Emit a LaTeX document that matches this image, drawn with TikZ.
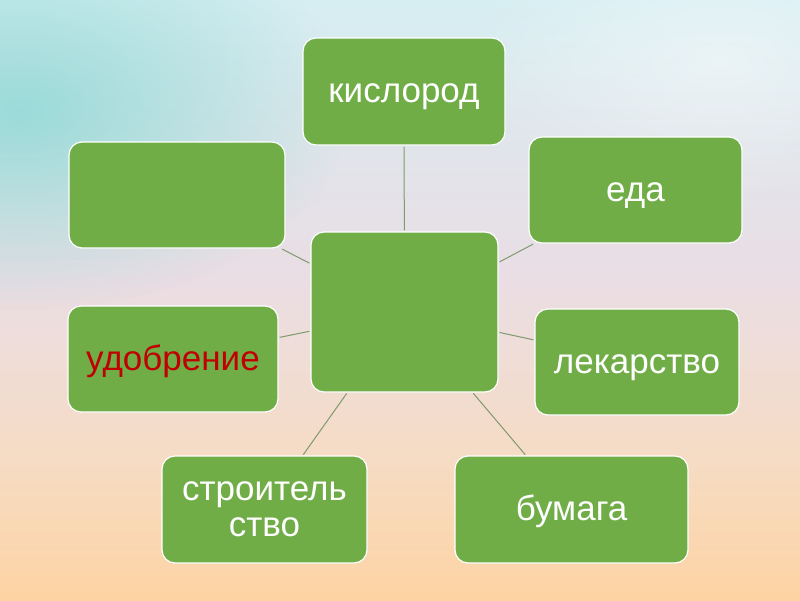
\documentclass[tikz,border=0pt]{standalone}
\usepackage{fontspec}
\setmainfont{Liberation Sans}
\usetikzlibrary{fadings}
\definecolor{boxgreen}{HTML}{70AD47}
\definecolor{linegreen}{HTML}{7E9A6E}
\definecolor{darkred}{HTML}{C00000}
\definecolor{bgtop}{HTML}{D6EEF2}
\definecolor{bgmid}{HTML}{EADDE4}
\definecolor{bglow}{HTML}{F6DCC4}
\definecolor{bgbot}{HTML}{FDD3A3}
\definecolor{tealblob}{HTML}{8ED9D5}
\tikzfading[name=blobfade, inner color=transparent!0, outer color=transparent!100]
\tikzset{
  gbox/.style={draw=white, line width=1.2pt, fill=boxgreen, rounded corners=13pt,
    text=white, font=\fontsize{35}{36}\selectfont, align=center, inner sep=0pt},
  oneline/.style={text height=30pt, text depth=8pt},
  conn/.style={draw=linegreen, line width=1pt}
}
\begin{document}
\begin{tikzpicture}[x=1pt,y=-1pt]
\useasboundingbox (0,0) rectangle (800,600);
% background
\shade[top color=bgtop, bottom color=bgmid] (0,0) rectangle (800,281);
\shade[top color=bgmid, bottom color=bglow] (0,280) rectangle (800,461);
\shade[top color=bglow, bottom color=bgbot] (0,460) rectangle (800,600);
\fill[tealblob, path fading=blobfade, fill opacity=0.85] (20,110) ellipse (330 and 200);
\fill[white, path fading=blobfade, fill opacity=0.45] (720,60) ellipse (260 and 140);
% nodes
\node[gbox, minimum width=187pt, minimum height=160pt] (center) at (404.5,312) {};
\node[gbox, oneline, minimum width=202pt, minimum height=107pt] (kis) at (404,91.5) {кислород};
\node[gbox, oneline, minimum width=213pt, minimum height=106pt] (eda) at (635.5,190) {еда};
\node[gbox, minimum width=216pt, minimum height=106pt] (empty) at (177,195) {};
\node[gbox, oneline, minimum width=210pt, minimum height=106pt, text=darkred] (udo) at (173,359) {удобрение};
\node[gbox, oneline, minimum width=204pt, minimum height=106pt] (lek) at (637,362) {лекарство};
\node[gbox, minimum width=205pt, minimum height=107pt] (str) at (264.5,509.5) {\raisebox{-2pt}{строитель}\\\raisebox{-2pt}{ство}};
\node[gbox, oneline, minimum width=233pt, minimum height=107pt] (bum) at (571.5,509.5) {бумага};
% connectors
\foreach \n in {kis,eda,empty,udo,lek,str,bum}
  \draw[conn, shorten <=1pt, shorten >=1pt] (center) -- (\n);
\end{tikzpicture}
\end{document}
